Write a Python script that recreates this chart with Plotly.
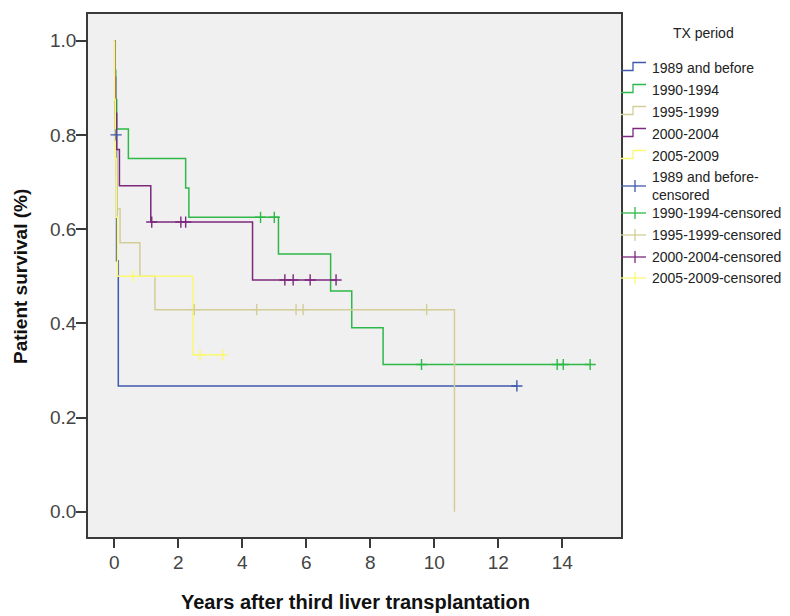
import plotly.graph_objects as go

# Kaplan-Meier estimates by transplantation period (time in years)
periods = ["1989 and before", "1990-1994", "1995-1999", "2000-2004", "2005-2009"]
colors = ["#3E58AC", "#2EB848", "#D3CE97", "#7C287D", "#FBF873"]

blue_t = [0, 0.03, 0.07, 0.125, 12.58]
blue_s = [1.0, 0.8, 0.533, 0.267, 0.267]
blue_cens_t = [0.056, 12.58]
blue_cens_s = [0.8, 0.267]

green_t = [0, 0.02, 0.045, 0.075, 0.44, 2.23, 2.33, 5.13, 6.76, 7.42, 8.40, 14.87]
green_s = [1.0, 0.9375, 0.875, 0.8125, 0.75, 0.6875, 0.625, 0.5469, 0.4688, 0.3906, 0.3125, 0.3125]
green_cens_t = [4.57, 5.0, 9.6, 13.84, 14.03, 14.87]
green_cens_s = [0.625, 0.625, 0.3125, 0.3125, 0.3125, 0.3125]

tan_t = [0, 0.01, 0.02, 0.03, 0.05, 0.08, 0.18, 0.80, 1.27, 10.63]
tan_s = [1.0, 0.929, 0.857, 0.786, 0.714, 0.643, 0.571, 0.5, 0.429, 0.0]
tan_cens_t = [2.5, 4.45, 5.68, 5.9, 9.76]
tan_cens_s = [0.429, 0.429, 0.429, 0.429, 0.429]

purple_t = [0, 0.02, 0.04, 0.075, 0.16, 1.14, 4.32, 6.93]
purple_s = [1.0, 0.923, 0.846, 0.769, 0.692, 0.615, 0.492, 0.492]
purple_cens_t = [1.17, 2.08, 2.23, 5.33, 5.59, 6.12, 6.93]
purple_cens_s = [0.615, 0.615, 0.615, 0.492, 0.492, 0.492, 0.492]

yellow_t = [0, 0.01, 0.03, 0.06, 0.10, 2.45, 3.39]
yellow_s = [1.0, 0.875, 0.75, 0.625, 0.5, 0.333, 0.333]
yellow_cens_t = [0.59, 2.68, 3.39]
yellow_cens_s = [0.5, 0.333, 0.333]

x_ticks = [0, 2, 4, 6, 8, 10, 12, 14]
y_ticks = [0.0, 0.2, 0.4, 0.6, 0.8, 1.0]

curves = [(blue_t, blue_s), (green_t, green_s), (tan_t, tan_s),
          (purple_t, purple_s), (yellow_t, yellow_s)]
censors = [(blue_cens_t, blue_cens_s), (green_cens_t, green_cens_s),
           (tan_cens_t, tan_cens_s), (purple_cens_t, purple_cens_s),
           (yellow_cens_t, yellow_cens_s)]

FONT = "Arial, Liberation Sans, sans-serif"
W, H = 790, 616
L, R, T, B = 88, 621, 14, 537  # plot area in pixels

fig = go.Figure()
for name, col, (t, s) in zip(periods, colors, curves):
    fig.add_trace(go.Scatter(x=t, y=s, mode="lines", line_shape="hv",
                             line=dict(color=col, width=1.5), name=name,
                             showlegend=False, hoverinfo="skip"))
for name, col, (t, s) in zip(periods, colors, censors):
    fig.add_trace(go.Scatter(x=t, y=s, mode="markers", name=name + "-censored",
                             marker=dict(symbol="cross-thin", size=8,
                                         line=dict(color=col, width=1.4)),
                             showlegend=False, hoverinfo="skip"))


def px(xp):
    return (xp - L) / (R - L)


def py(yp):
    return (B - yp) / (B - T)


shapes = []
annotations = []

# legend: title, step symbols for survival lines, cross symbols for censored marks
annotations.append(dict(text="TX period", x=px(703), y=py(33), xref="paper", yref="paper",
                        xanchor="center", yanchor="middle", showarrow=False,
                        font=dict(family=FONT, size=14, color="#222")))
step_rows = [68, 90, 112, 134, 156]
for yc, name, col in zip(step_rows, periods, colors):
    path = "M {},{} H {} V {} H {}".format(px(621), py(yc + 2.5), px(633), py(yc - 5.5), px(646))
    shapes.append(dict(type="path", path=path, xref="paper", yref="paper",
                       line=dict(color=col, width=1.3)))
    annotations.append(dict(text=name, x=px(650), y=py(yc), xref="paper", yref="paper",
                            xanchor="left", yanchor="middle", showarrow=False,
                            font=dict(family=FONT, size=14, color="#222")))

cens_rows = [186, 213, 235, 257, 278]
for i, (yc, name, col) in enumerate(zip(cens_rows, periods, colors)):
    shapes.append(dict(type="line", x0=px(621), x1=px(646), y0=py(yc), y1=py(yc),
                       xref="paper", yref="paper", line=dict(color=col, width=1.3)))
    shapes.append(dict(type="line", x0=px(635), x1=px(635), y0=py(yc - 6), y1=py(yc + 6),
                       xref="paper", yref="paper", line=dict(color=col, width=1.3)))
    txt = name + "-<br>censored" if i == 0 else name + "-censored"
    annotations.append(dict(text=txt, x=px(650), y=py(yc), xref="paper", yref="paper",
                            xanchor="left", yanchor="middle", align="left", showarrow=False,
                            font=dict(family=FONT, size=14, color="#222")))

# axis titles
annotations.append(dict(text="<b>Patient survival (%)</b>", x=px(20), y=py(277),
                        xref="paper", yref="paper", textangle=-90, showarrow=False,
                        xanchor="center", yanchor="middle",
                        font=dict(family=FONT, size=19, color="#111")))
annotations.append(dict(text="<b>Years after third liver transplantation</b>", x=px(355),
                        y=py(602), xref="paper", yref="paper", showarrow=False,
                        xanchor="center", yanchor="middle",
                        font=dict(family=FONT, size=20, color="#111")))

# data-to-pixel mapping: t=0 at 114.3 px (32 px/year), S=0 at 511.7 px, S=1 at 40.7 px
x0_px, x_scale = 114.3, 32.0
y0_px, y_scale = 511.7, 471.0
x_range = [(L - x0_px) / x_scale, (R - x0_px) / x_scale]
y_range = [(y0_px - B) / y_scale, (y0_px - T) / y_scale]

fig.update_layout(
    width=W, height=H,
    margin=dict(l=L, r=W - R, t=T, b=H - B, pad=0),
    plot_bgcolor="#F0F0F0", paper_bgcolor="white",
    shapes=shapes, annotations=annotations,
    font=dict(family=FONT),
    xaxis=dict(range=x_range, tickvals=x_ticks, ticktext=[str(v) for v in x_ticks],
               showgrid=False, zeroline=False, showline=True, mirror=True,
               linecolor="#3a3a3a", linewidth=1.5, ticks="outside", ticklen=9,
               tickwidth=1.5, tickcolor="#3a3a3a", ticklabelstandoff=-2,
               tickfont=dict(family=FONT, size=19, color="#444")),
    yaxis=dict(range=y_range, tickvals=y_ticks, ticktext=["{:.1f}".format(v) for v in y_ticks],
               showgrid=False, zeroline=False, showline=True, mirror=True,
               linecolor="#3a3a3a", linewidth=1.5, ticks="outside", ticklen=10,
               tickwidth=1.5, tickcolor="#3a3a3a", ticklabelstandoff=-4,
               tickfont=dict(family=FONT, size=19, color="#444")),
)

fig.write_html("out.html")
